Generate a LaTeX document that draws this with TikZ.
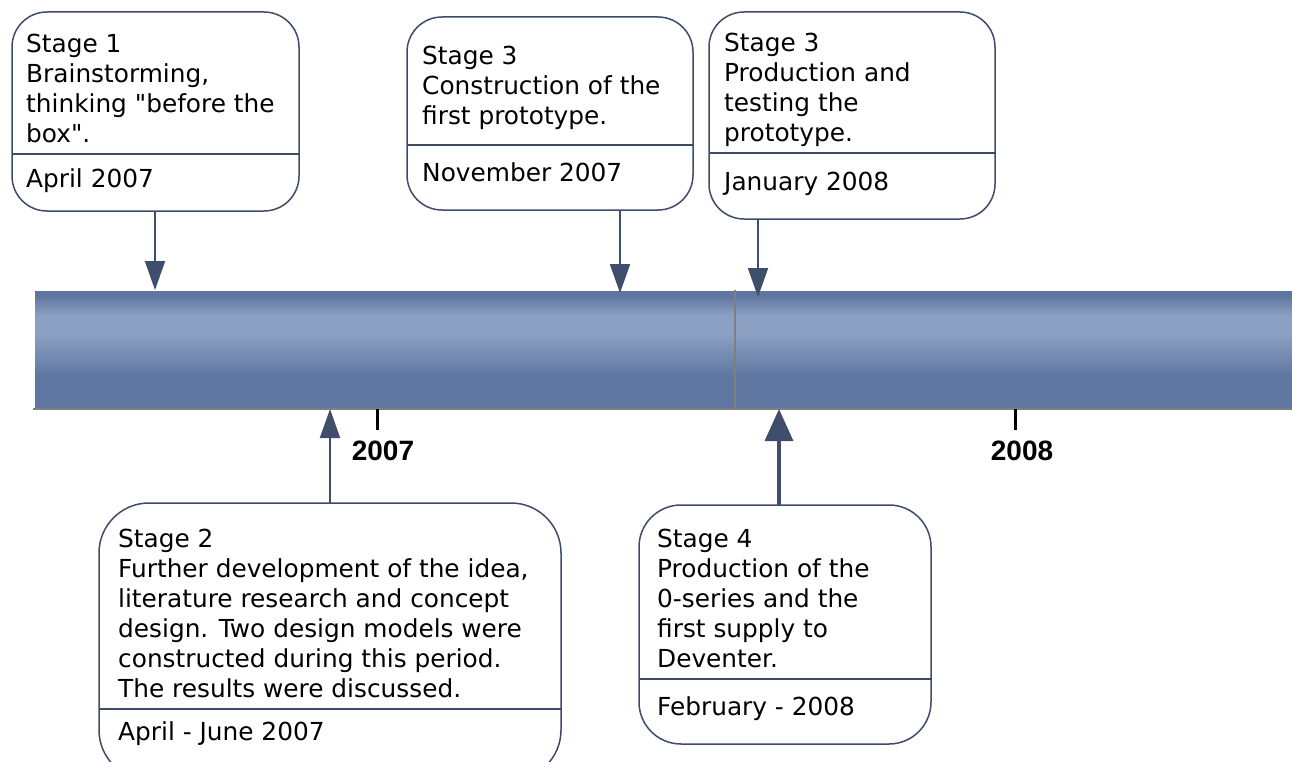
\documentclass[tikz,border=0pt]{standalone}
\usepackage{fontspec}
\setmainfont{DejaVu Sans}[Ligatures=TeXOff]
\newfontfamily\yearfont{Liberation Sans}
\usetikzlibrary{arrows.meta}
\definecolor{edge}{HTML}{3E4C6A}
\definecolor{arrowc}{HTML}{3F4E6C}
\definecolor{banddark}{HTML}{5F77A0}
\definecolor{bandlight}{HTML}{8CA0C4}
\definecolor{rule}{HTML}{7F7F7F}
\begin{document}
\begin{tikzpicture}[x=1pt,y=-1pt,
  stagebox/.style={draw=edge, line width=1.5pt, rounded corners=35pt, fill=white, inner sep=0pt, outer sep=0pt},
  divider/.style={draw=edge, line width=1.5pt},
  txt/.style={anchor=base west, inner sep=0pt, align=left, font=\fontsize{24.8}{30}\selectfont},
  arr/.style={draw=arrowc, line width=2pt, -{Triangle[width=20pt,length=29pt]}},
  bigarr/.style={draw=arrowc, line width=3.5pt, -{Triangle[width=28pt,length=32pt]}},
  yearlbl/.style={anchor=base, inner sep=0pt, font=\yearfont\bfseries\fontsize{28}{30}\selectfont},
  tick/.style={draw=black, line width=3pt}]
\useasboundingbox (0,0) rectangle (1292,762);
\clip (0,0) rectangle (1292,762);

% band
\fill[banddark] (35,291) rectangle (1292,409);
\shade[top color=banddark, bottom color=bandlight] (35,296) rectangle (1292,316);
\fill[bandlight] (35,316) rectangle (1292,334);
\shade[top color=bandlight, bottom color=banddark] (35,334) rectangle (1292,376);
\draw[rule, line width=2pt] (33,409) -- (1292,409);
\draw[rule, line width=1.5pt] (735,290) -- (735,409);

% ticks and years
\draw[tick] (377,409) -- (377,430);
\draw[tick] (1015,409) -- (1015,430);
\node[yearlbl] (y7) at (383,460) {2007};
\node[yearlbl] (y8) at (1022,460) {2008};

% targets
\coordinate (t1) at (155,290);
\coordinate (t2) at (620,293);
\coordinate (t3) at (758,297);
\coordinate (t4) at (330,409);
\coordinate (t5) at (779,409);

% boxes
\node[stagebox, minimum width=287pt, minimum height=199pt] (b1) at (155.5,111.5) {};
\node[stagebox, minimum width=286pt, minimum height=193pt] (b2) at (550,113.5) {};
\node[stagebox, minimum width=286pt, minimum height=207pt] (b3) at (852,115.5) {};
\node[stagebox, rounded corners=50pt, minimum width=462pt, minimum height=277pt] (b4) at (330,641.5) {};
\node[stagebox, rounded corners=42pt, minimum width=292pt, minimum height=239pt] (b5) at (785,624.5) {};

\draw[divider] ([yshift=-142pt]b1.north west) -- ([yshift=-142pt]b1.north east);
\draw[divider] ([yshift=-128pt]b2.north west) -- ([yshift=-128pt]b2.north east);
\draw[divider] ([yshift=-141pt]b3.north west) -- ([yshift=-141pt]b3.north east);
\draw[divider] ([yshift=-206pt]b4.north west) -- ([yshift=-206pt]b4.north east);
\draw[divider] ([yshift=-174pt]b5.north west) -- ([yshift=-174pt]b5.north east);

% texts (anchor = baseline of the last line)
\node[txt] (s1) at (26,143) {Stage 1\\Brainstorming,\\thinking "before the\\box".};
\node[txt] (d1) at (26,187) {April 2007};
\node[txt] (s2) at (422,125) {Stage 3\\Construction of the\\first prototype.};
\node[txt] (d2) at (422,182) {November 2007};
\node[txt] (s3) at (724,142) {Stage 3\\Production and\\testing the\\prototype.};
\node[txt] (d3) at (724,190) {January 2008};
\node[txt] (s4) at (118,697) {Stage 2\\Further development of the idea,\\literature research and concept\\design. Two design models were\\constructed during this period.\\The results were discussed.};
\node[txt] (d4) at (118,740) {April - June 2007};
\node[txt] (s5) at (657,667) {Stage 4\\Production of the\\0-series and the\\first supply to\\Deventer.};
\node[txt] (d5) at (657,715) {February - 2008};

% arrows
\draw[arr] (b1.south -| t1) -- (t1);
\draw[arr] (b2.south -| t2) -- (t2);
\draw[arr] (b3.south -| t3) -- (t3);
\draw[arr] (b4.north -| t4) -- (t4);
\draw[bigarr] (b5.north -| t5) -- (t5);
\end{tikzpicture}
\end{document}
